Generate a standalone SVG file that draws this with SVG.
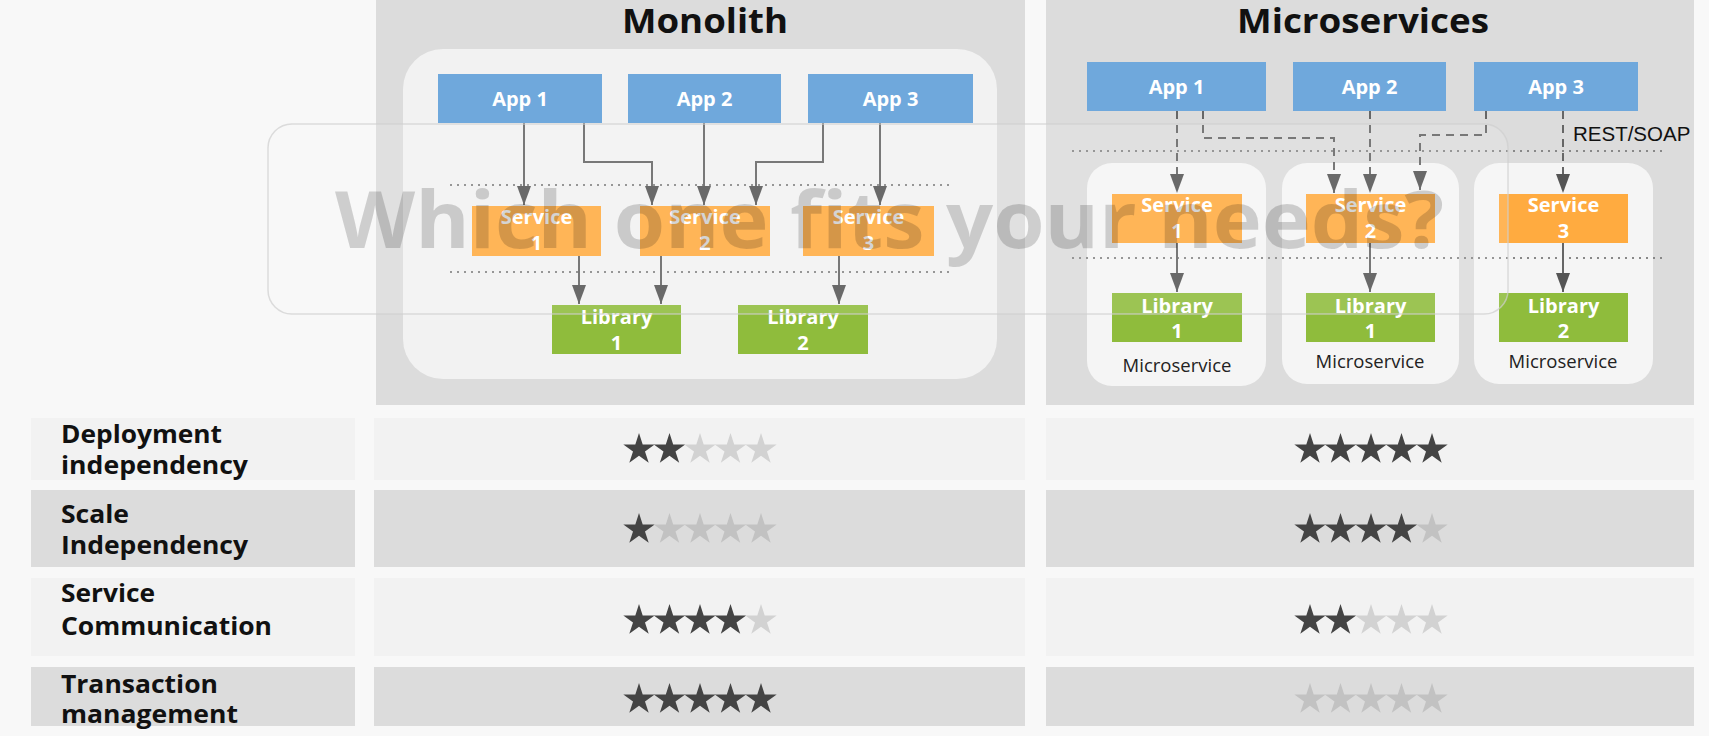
<svg xmlns="http://www.w3.org/2000/svg" xmlns:xlink="http://www.w3.org/1999/xlink" width="1709" height="736" viewBox="0 0 1709 736">
<style>
.panel{fill:#dcdcdc}
.inner{fill:#f2f2f2}
.ms{fill:#f5f5f5}
.app{fill:#6fa8dc}
.svc{fill:#ffab40}
.lib{fill:#8fbc3c}
.bt{font-family:"Open Sans","DejaVu Sans",sans-serif;font-weight:700;font-size:20px;fill:#ffffff;text-anchor:middle}
.title{font-family:"Open Sans","DejaVu Sans",sans-serif;font-weight:700;font-size:34px;fill:#111;text-anchor:middle}
.lbl{font-family:"Open Sans","DejaVu Sans",sans-serif;font-weight:700;font-size:25px;fill:#111}
.mst{font-family:"Open Sans","DejaVu Sans",sans-serif;font-size:18.5px;fill:#222;text-anchor:middle}
.rest{font-family:"Liberation Sans",Arial,sans-serif;font-size:20.5px;fill:#111}
.dot{stroke:#888;stroke-width:2;stroke-dasharray:2 5;fill:none}
.solid{stroke:#666;stroke-width:2;fill:none;marker-end:url(#ah)}
.dash{stroke:#666;stroke-width:2;fill:none;stroke-dasharray:8 6;marker-end:url(#ah)}
.cellL{fill:#f2f2f2}
.cellD{fill:#dcdcdc}
.sd{fill:#444}
.sl{fill:#d2d2d2}
.sg{fill:#c2c2c2}
</style>
<defs>
<marker id="ah" markerUnits="userSpaceOnUse" markerWidth="20" markerHeight="14" refX="19" refY="7" orient="auto">
<path d="M0,0 L19,7 L0,14 z" fill="#555"/>
</marker>
<path id="star" d="M0,-16.5 L3.7,-5.1 L15.69,-5.1 L5.99,1.95 L9.7,13.35 L0,6.3 L-9.7,13.35 L-5.99,1.95 L-15.69,-5.1 L-3.7,-5.1 z"/>
</defs>
<rect x="0" y="0" width="1709" height="736" fill="#f8f8f8"/>

<g id="monolith">
<rect class="panel" x="376" y="0" width="649" height="405"/>
<rect class="inner" x="403" y="49" width="594" height="330" rx="40"/>
<text class="title" x="705" y="33" textLength="166" lengthAdjust="spacingAndGlyphs">Monolith</text>
<line class="dot" x1="450" y1="185" x2="949" y2="185"/>
<line class="dot" x1="450" y1="272" x2="949" y2="272"/>
</g>

<g id="microservices">
<rect class="panel" x="1046" y="0" width="648" height="405"/>
<text class="title" x="1363" y="33" textLength="252" lengthAdjust="spacingAndGlyphs">Microservices</text>
<text class="rest" x="1573" y="141">REST/SOAP</text>
<line class="dot" x1="1072" y1="151" x2="1667" y2="151"/>
<g id="ms1"><rect class="ms" x="1087" y="163" width="179" height="223" rx="25"/><text class="mst" x="1177" y="372">Microservice</text></g>
<g id="ms2"><rect class="ms" x="1282" y="163" width="177" height="221" rx="25"/><text class="mst" x="1370" y="368">Microservice</text></g>
<g id="ms3"><rect class="ms" x="1474" y="163" width="179" height="221" rx="25"/><text class="mst" x="1563" y="368">Microservice</text></g>
<line class="dot" x1="1072" y1="258" x2="1667" y2="258"/>
</g>

<g id="connectors">
<path class="solid" d="M524,123 V205"/>
<path class="solid" d="M584,123 V162 H652 V205"/>
<path class="solid" d="M704,123 V205"/>
<path class="solid" d="M823,123 V162 H756 V205"/>
<path class="solid" d="M880,123 V205"/>
<path class="solid" d="M579,256 V304"/>
<path class="solid" d="M661,256 V304"/>
<path class="solid" d="M839,256 V304"/>
<path class="dash" d="M1177,111 V193"/>
<path class="dash" d="M1203,111 V138 H1334 V193"/>
<path class="dash" d="M1370,111 V193"/>
<path class="dash" d="M1486,111 V135 H1420 V190"/>
<path class="dash" d="M1563,111 V193"/>
<path class="solid" d="M1177,243 V292"/>
<path class="solid" d="M1370,243 V292"/>
<path class="solid" d="M1563,243 V292"/>
</g>

<g id="m-app1"><rect class="app" x="438" y="74" width="164" height="49"/><text class="bt" x="520" y="106">App 1</text></g>
<g id="m-app2"><rect class="app" x="628" y="74" width="153" height="49"/><text class="bt" x="704.5" y="106">App 2</text></g>
<g id="m-app3"><rect class="app" x="808" y="74" width="165" height="49"/><text class="bt" x="890.5" y="106">App 3</text></g>
<g id="m-svc1"><rect class="svc" x="472" y="206" width="129" height="50"/><text class="bt" x="536.5" y="224">Service</text><text class="bt" x="536.5" y="250">1</text></g>
<g id="m-svc2"><rect class="svc" x="640" y="206" width="130" height="50"/><text class="bt" x="705" y="224">Service</text><text class="bt" x="705" y="250">2</text></g>
<g id="m-svc3"><rect class="svc" x="803" y="206" width="131" height="50"/><text class="bt" x="868.5" y="224">Service</text><text class="bt" x="868.5" y="250">3</text></g>
<g id="m-lib1"><rect class="lib" x="552" y="305" width="129" height="49"/><text class="bt" x="616.5" y="324">Library</text><text class="bt" x="616.5" y="350">1</text></g>
<g id="m-lib2"><rect class="lib" x="738" y="305" width="130" height="49"/><text class="bt" x="803" y="324">Library</text><text class="bt" x="803" y="350">2</text></g>

<g id="u-app1"><rect class="app" x="1087" y="62" width="179" height="49"/><text class="bt" x="1176.5" y="94">App 1</text></g>
<g id="u-app2"><rect class="app" x="1293" y="62" width="153" height="49"/><text class="bt" x="1369.5" y="94">App 2</text></g>
<g id="u-app3"><rect class="app" x="1474" y="62" width="164" height="49"/><text class="bt" x="1556" y="94">App 3</text></g>
<g id="u-svc1"><rect class="svc" x="1112" y="194" width="130" height="49"/><text class="bt" x="1177" y="212">Service</text><text class="bt" x="1177" y="238">1</text></g>
<g id="u-svc2"><rect class="svc" x="1306" y="194" width="129" height="49"/><text class="bt" x="1370.5" y="212">Service</text><text class="bt" x="1370.5" y="238">2</text></g>
<g id="u-svc3"><rect class="svc" x="1499" y="194" width="129" height="49"/><text class="bt" x="1563.5" y="212">Service</text><text class="bt" x="1563.5" y="238">3</text></g>
<g id="u-lib1"><rect class="lib" x="1112" y="293" width="130" height="49"/><text class="bt" x="1177" y="313">Library</text><text class="bt" x="1177" y="338">1</text></g>
<g id="u-lib2"><rect class="lib" x="1306" y="293" width="129" height="49"/><text class="bt" x="1370.5" y="313">Library</text><text class="bt" x="1370.5" y="338">1</text></g>
<g id="u-lib3"><rect class="lib" x="1499" y="293" width="129" height="49"/><text class="bt" x="1563.5" y="313">Library</text><text class="bt" x="1563.5" y="338">2</text></g>

<g id="overlay">
<rect x="268" y="124" width="1240" height="190" rx="24" fill="#ffffff" fill-opacity="0.12" stroke="#cfcfcf" stroke-opacity="0.7" stroke-width="1.5"/>
<text x="335" y="248" font-family="'Open Sans','DejaVu Sans',sans-serif" font-weight="700" font-size="78" fill="#000" fill-opacity="0.17" textLength="1109" lengthAdjust="spacingAndGlyphs">Which one fits your needs?</text>
</g>

<g id="table">
<rect class="cellL" x="31" y="418" width="324" height="62"/>
<rect class="cellL" x="374" y="418" width="651" height="62"/>
<rect class="cellL" x="1046" y="418" width="648" height="62"/>
<rect class="cellD" x="31" y="490" width="324" height="77"/>
<rect class="cellD" x="374" y="490" width="651" height="77"/>
<rect class="cellD" x="1046" y="490" width="648" height="77"/>
<rect class="cellL" x="31" y="578" width="324" height="78"/>
<rect class="cellL" x="374" y="578" width="651" height="78"/>
<rect class="cellL" x="1046" y="578" width="648" height="78"/>
<rect class="cellD" x="31" y="667" width="324" height="59"/>
<rect class="cellD" x="374" y="667" width="651" height="59"/>
<rect class="cellD" x="1046" y="667" width="648" height="59"/>

<text class="lbl" x="61" y="443" textLength="161" lengthAdjust="spacingAndGlyphs">Deployment</text>
<text class="lbl" x="61" y="474" textLength="187" lengthAdjust="spacingAndGlyphs">independency</text>
<text class="lbl" x="61" y="523" textLength="68" lengthAdjust="spacingAndGlyphs">Scale</text>
<text class="lbl" x="61" y="554" textLength="187" lengthAdjust="spacingAndGlyphs">Independency</text>
<text class="lbl" x="61" y="602" textLength="94" lengthAdjust="spacingAndGlyphs">Service</text>
<text class="lbl" x="61" y="635" textLength="211" lengthAdjust="spacingAndGlyphs">Communication</text>
<text class="lbl" x="61" y="693" textLength="157" lengthAdjust="spacingAndGlyphs">Transaction</text>
<text class="lbl" x="61" y="723" textLength="177" lengthAdjust="spacingAndGlyphs">management</text>

<g id="stars-m1">
<use href="#star" xlink:href="#star" class="sd" x="639" y="449.5"/><use href="#star" xlink:href="#star" class="sd" x="669.5" y="449.5"/><use href="#star" xlink:href="#star" class="sl" x="700" y="449.5"/><use href="#star" xlink:href="#star" class="sl" x="730.5" y="449.5"/><use href="#star" xlink:href="#star" class="sl" x="761" y="449.5"/>
</g>
<g id="stars-m2">
<use href="#star" xlink:href="#star" class="sd" x="639" y="529.5"/><use href="#star" xlink:href="#star" class="sg" x="669.5" y="529.5"/><use href="#star" xlink:href="#star" class="sg" x="700" y="529.5"/><use href="#star" xlink:href="#star" class="sg" x="730.5" y="529.5"/><use href="#star" xlink:href="#star" class="sg" x="761" y="529.5"/>
</g>
<g id="stars-m3">
<use href="#star" xlink:href="#star" class="sd" x="639" y="620.5"/><use href="#star" xlink:href="#star" class="sd" x="669.5" y="620.5"/><use href="#star" xlink:href="#star" class="sd" x="700" y="620.5"/><use href="#star" xlink:href="#star" class="sd" x="730.5" y="620.5"/><use href="#star" xlink:href="#star" class="sl" x="761" y="620.5"/>
</g>
<g id="stars-m4">
<use href="#star" xlink:href="#star" class="sd" x="639" y="699.5"/><use href="#star" xlink:href="#star" class="sd" x="669.5" y="699.5"/><use href="#star" xlink:href="#star" class="sd" x="700" y="699.5"/><use href="#star" xlink:href="#star" class="sd" x="730.5" y="699.5"/><use href="#star" xlink:href="#star" class="sd" x="761" y="699.5"/>
</g>
<g id="stars-u1">
<use href="#star" xlink:href="#star" class="sd" x="1310" y="449.5"/><use href="#star" xlink:href="#star" class="sd" x="1340.5" y="449.5"/><use href="#star" xlink:href="#star" class="sd" x="1371" y="449.5"/><use href="#star" xlink:href="#star" class="sd" x="1401.5" y="449.5"/><use href="#star" xlink:href="#star" class="sd" x="1432" y="449.5"/>
</g>
<g id="stars-u2">
<use href="#star" xlink:href="#star" class="sd" x="1310" y="529.5"/><use href="#star" xlink:href="#star" class="sd" x="1340.5" y="529.5"/><use href="#star" xlink:href="#star" class="sd" x="1371" y="529.5"/><use href="#star" xlink:href="#star" class="sd" x="1401.5" y="529.5"/><use href="#star" xlink:href="#star" class="sg" x="1432" y="529.5"/>
</g>
<g id="stars-u3">
<use href="#star" xlink:href="#star" class="sd" x="1310" y="620.5"/><use href="#star" xlink:href="#star" class="sd" x="1340.5" y="620.5"/><use href="#star" xlink:href="#star" class="sl" x="1371" y="620.5"/><use href="#star" xlink:href="#star" class="sl" x="1401.5" y="620.5"/><use href="#star" xlink:href="#star" class="sl" x="1432" y="620.5"/>
</g>
<g id="stars-u4">
<use href="#star" xlink:href="#star" class="sg" x="1310" y="699.5"/><use href="#star" xlink:href="#star" class="sg" x="1340.5" y="699.5"/><use href="#star" xlink:href="#star" class="sg" x="1371" y="699.5"/><use href="#star" xlink:href="#star" class="sg" x="1401.5" y="699.5"/><use href="#star" xlink:href="#star" class="sg" x="1432" y="699.5"/>
</g>
</g>
</svg>
